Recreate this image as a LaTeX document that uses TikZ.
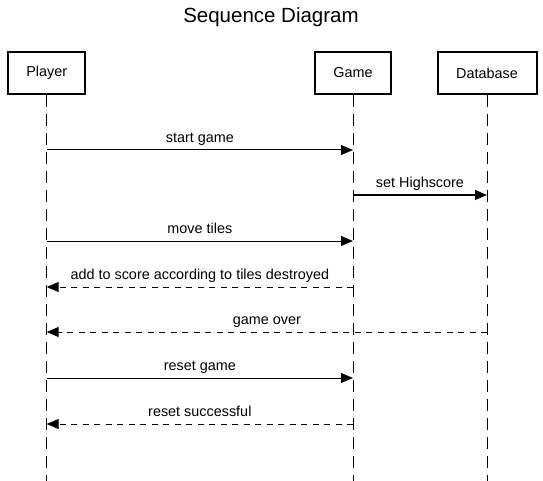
\documentclass[tikz,border=0pt]{standalone}
\usepackage{fontspec}
\setmainfont{Liberation Sans}
\usetikzlibrary{arrows.meta, positioning}

\begin{document}
\begin{tikzpicture}[x=1pt, y=-1pt,
  actorbox/.style={draw, line width=2pt, minimum height=42pt, inner sep=0pt, font=\fontsize{14.4}{17}\selectfont},
  lifeline/.style={line width=1pt, dash pattern=on 12pt off 7pt},
  callmsg/.style={line width=1pt, -{Triangle[length=12pt, width=10pt]}},
  replymsg/.style={callmsg, dash pattern=on 6pt off 5.5pt},
  msglabel/.style={midway, anchor=base, yshift=7.5pt, inner sep=0pt, font=\fontsize{14.4}{17}\selectfont}]
  \useasboundingbox (0,0) rectangle (543,481);

  % Title
  \node[font=\fontsize{20.5}{24}\selectfont] (title) at (271,17) {Sequence Diagram};

  % Participants
  \node[actorbox, minimum width=77pt] (player) at (46.7,73) {Player};
  \node[actorbox, minimum width=76pt] (game) at (353,73) {Game};
  \node[actorbox, minimum width=99pt] (database) at (487,73) {Database};

  % Lifelines
  \coordinate (bottom) at (0,481);
  \draw[lifeline] (player) -- (player |- bottom);
  \draw[lifeline] (game) -- (game |- bottom);
  \draw[lifeline] (database) -- (database |- bottom);

  % Message rows
  \foreach \row/\y in {start/150, high/195, move/241, score/287, over/332, reset/378, done/424}
    \coordinate (\row) at (0,\y);

  % Messages
  \draw[callmsg] (player |- start) -- node[msglabel] {start game} (game |- start);
  \draw[callmsg] (game |- high) -- node[msglabel] {set Highscore} (database |- high);
  \draw[callmsg] (player |- move) -- node[msglabel] {move tiles} (game |- move);
  \draw[replymsg] (game |- score) -- node[msglabel] {add to score according to tiles destroyed} (player |- score);
  \draw[replymsg] (database |- over) -- node[msglabel] {game over} (player |- over);
  \draw[callmsg] (player |- reset) -- node[msglabel] {reset game} (game |- reset);
  \draw[replymsg] (game |- done) -- node[msglabel] {reset successful} (player |- done);
\end{tikzpicture}
\end{document}
